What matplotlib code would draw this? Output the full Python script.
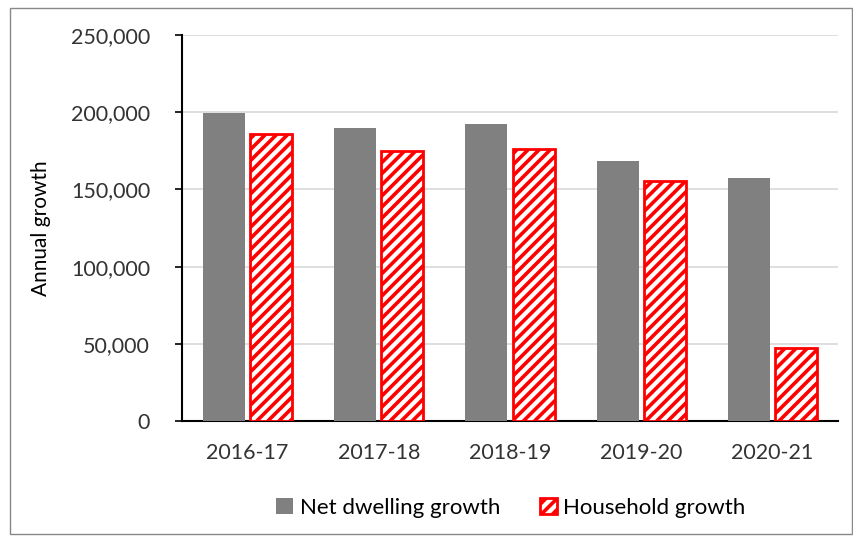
import numpy as np
import matplotlib
matplotlib.use('Agg')
from matplotlib import pyplot as plt
from matplotlib.patches import Rectangle

# Data
years = ['2016-17', '2017-18', '2018-19', '2019-20', '2020-21']
net_dwelling = [199500, 190000, 192500, 168500, 157500]
household = [186000, 175000, 176000, 155500, 47500]

plt.rcParams['font.family'] = ['Lato', 'DejaVu Sans']
plt.rcParams['hatch.linewidth'] = 2.6
plt.rcParams['hatch.color'] = '#ff0000'

fig = plt.figure(figsize=(8.54, 5.36), dpi=100)
ax = fig.add_axes([182/854, 1 - 421/536, (838-182)/854, (421-35)/536])

x = np.arange(len(years))
w = 0.32
ax.bar(x - w/2 - 0.02, net_dwelling, w, color='#808080', label='Net dwelling growth', zorder=3)
ax.bar(x + w/2 + 0.02, household, w, color='white', edgecolor='#ff0000', linewidth=2,
       hatch='///', label='Household growth', zorder=3)

ax.set_xlim(-0.5, len(years) - 0.5)
ax.set_ylim(0, 250000)
ax.set_yticks(range(0, 250001, 50000))
ax.set_yticklabels([f'{v:,}' for v in range(0, 250001, 50000)])
ax.set_xticks(x)
ax.set_xticklabels(years)
ax.tick_params(axis='both', labelsize=15.5, colors='#333333')
ax.tick_params(axis='y', length=5, width=1.2, direction='out', color='black', pad=18)
ax.tick_params(axis='x', length=0, pad=16)
ax.grid(axis='y', color='#d9d9d9', linewidth=1.2, zorder=0)
for s in ['top', 'right']:
    ax.spines[s].set_visible(False)
ax.spines['left'].set_linewidth(1.5)
ax.spines['bottom'].set_linewidth(1.5)
ax.set_ylabel('Annual growth', fontsize=15, labelpad=14, color='black')

ax.legend(loc='center', bbox_to_anchor=(511/854, (536-508)/536), bbox_transform=fig.transFigure,
          ncol=2, frameon=False, fontsize=16, handlelength=0.75, handleheight=0.75,
          columnspacing=1.8, handletextpad=0.3)

# outer border
fig.patches.append(Rectangle((10/854, 2/536), 842/854, 526/536, transform=fig.transFigure,
                             fill=False, edgecolor='#888888', linewidth=1))

fig.savefig('out.png', dpi=100)
